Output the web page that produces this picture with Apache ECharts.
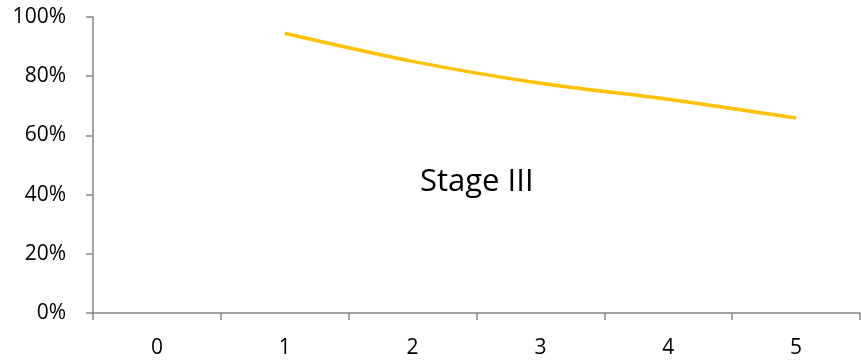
<!DOCTYPE html>
<html>
<head>
<meta charset="utf-8">
<script src="https://cdn.jsdelivr.net/npm/echarts@6/dist/echarts.min.js"></script>
<style>
  html, body { margin: 0; padding: 0; background: #fff; }
  #chart { width: 861px; height: 362px; }
</style>
</head>
<body>
<div id="chart"></div>
<script>
// Years since diagnosis
const years = ['0', '1', '2', '3', '4', '5'];
// Survival share, Stage III (no value at year 0)
const survival = [null, 0.945, 0.85, 0.776, 0.722, 0.659];
const yTicks = [0, 0.2, 0.4, 0.6, 0.8, 1.0];
const stageLabel = 'Stage III';

const font = '"Open Sans", Lato, sans-serif';
const axisGray = '#868686';

const chart = echarts.init(document.getElementById('chart'), null, { renderer: 'canvas' });
chart.setOption({
  animation: false,
  grid: { left: 93, right: 1, top: 17, bottom: 49, containLabel: false },
  xAxis: {
    type: 'category',
    data: years,
    boundaryGap: true,
    axisLine: { show: true, lineStyle: { color: axisGray, width: 1.5 } },
    axisTick: { show: true, length: 7, lineStyle: { color: axisGray, width: 1.5 } },
    axisLabel: { color: '#000', fontFamily: font, fontSize: 21, margin: 25 },
    splitLine: { show: false }
  },
  yAxis: {
    type: 'value',
    min: yTicks[0],
    max: yTicks[yTicks.length - 1],
    interval: 0.2,
    axisLine: { show: true, lineStyle: { color: axisGray, width: 1.5 } },
    axisTick: { show: true, length: 7, lineStyle: { color: axisGray, width: 1.5 } },
    axisLabel: {
      color: '#000', fontFamily: font, fontSize: 21, margin: 27,
      formatter: v => Math.round(v * 100) + '%'
    },
    splitLine: { show: false }
  },
  series: [{
    type: 'line',
    data: survival,
    smooth: 0.3,
    symbol: 'none',
    connectNulls: false,
    lineStyle: { color: '#FFC000', width: 3.5 }
  }],
  graphic: [{
    type: 'text',
    left: 420,
    top: 167,
    style: { text: stageLabel, fontFamily: font, fontSize: 31, fill: '#000' }
  }]
});
</script>
</body>
</html>
